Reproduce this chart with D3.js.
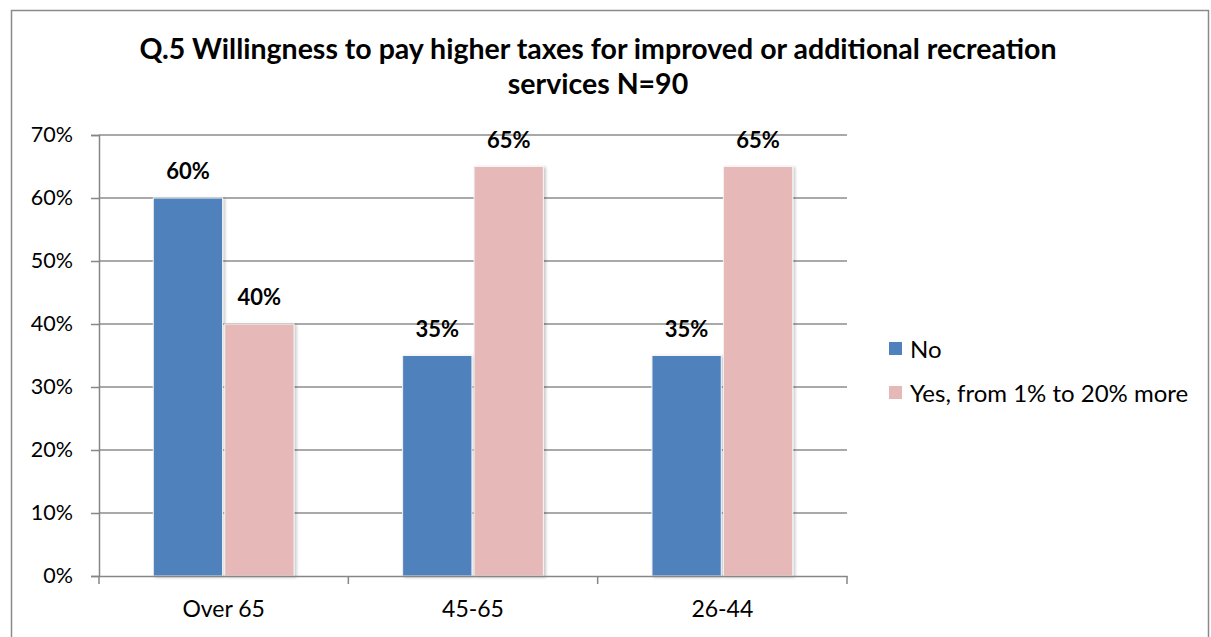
<!DOCTYPE html>
<html>
<head>
<meta charset="utf-8">
<script src="https://cdn.jsdelivr.net/npm/d3@7"></script>
<style>
  html, body { margin: 0; padding: 0; background: #fff; }
  svg { display: block; font-family: Lato, "Open Sans", "Liberation Sans", sans-serif; }
</style>
</head>
<body>
<svg id="chart" width="1211" height="637"></svg>
<script>
// Survey responses by age group
const categories = ["Over 65", "45-65", "26-44"];
const seriesNames = ["No", "Yes, from 1% to 20% more"];
const noValues = [60, 35, 35];
const yesValues = [40, 65, 65];
const yTicks = [0, 10, 20, 30, 40, 50, 60, 70];
const titleLines = ["Q.5 Willingness to pay higher taxes for improved or additional recreation", "services N=90"];
const colors = ["#4F81BD", "#E6B9B8"];

const svg = d3.select("#chart");
const defs = svg.append("defs");
const f = defs.append("filter").attr("id", "barShadow")
  .attr("x", "-10%").attr("y", "-10%").attr("width", "125%").attr("height", "120%");
f.append("feDropShadow").attr("dx", 2).attr("dy", 1).attr("stdDeviation", 1.5)
  .attr("flood-color", "#000").attr("flood-opacity", 0.22);

// outer chart frame
svg.append("rect").attr("x", 11.5).attr("y", 10.5).attr("width", 1197).attr("height", 640)
  .attr("fill", "#fff").attr("stroke", "#8a8a8a").attr("stroke-width", 1.5);

// title
svg.append("g").selectAll("text").data(titleLines).join("text")
  .attr("x", 598).attr("y", (d, i) => 59 + i * 35)
  .attr("text-anchor", "middle").attr("font-size", 28.5).attr("font-weight", 700)
  .attr("fill", "#000").text(d => d);

const plot = { left: 99, right: 847, top: 135, bottom: 576 };

const x = d3.scaleBand().domain(categories).range([plot.left, plot.right]);
const xi = d3.scaleBand().domain(seriesNames).range([0, x.bandwidth()])
  .paddingInner(0.03).paddingOuter(0.76);
const y = d3.scaleLinear().domain([0, 70]).range([plot.bottom, plot.top]);

// gridlines
svg.append("g").selectAll("line").data(yTicks.slice(1)).join("line")
  .attr("x1", plot.left).attr("x2", plot.right)
  .attr("y1", d => y(d)).attr("y2", d => y(d))
  .attr("stroke", "#8c8c8c").attr("stroke-width", 1.5);

// y axis
const yAxis = svg.append("g").attr("transform", `translate(${plot.left},0)`)
  .call(d3.axisLeft(y).tickValues(yTicks).tickFormat(d => d + "%").tickSize(8).tickPadding(18));
yAxis.select(".domain").attr("stroke", "#868686").attr("stroke-width", 1.5);
yAxis.selectAll(".tick line").attr("stroke", "#868686").attr("stroke-width", 1.5);
yAxis.selectAll(".tick text").attr("font-size", 21.5).attr("fill", "#000")
  .attr("font-family", "Lato, 'Open Sans', sans-serif");

// bars
const rows = categories.map((c, i) => ({ cat: c, vals: [noValues[i], yesValues[i]] }));
const groups = svg.append("g").selectAll("g").data(rows).join("g")
  .attr("transform", d => `translate(${x(d.cat)},0)`);
groups.selectAll("rect").data(d => d.vals.map((v, k) => ({ k, v }))).join("rect")
  .attr("x", d => xi(seriesNames[d.k]))
  .attr("y", d => y(d.v))
  .attr("width", xi.bandwidth())
  .attr("height", d => y(0) - y(d.v))
  .attr("fill", d => colors[d.k])
  .attr("stroke", "#f4f4f4").attr("stroke-width", 1)
  .attr("filter", "url(#barShadow)");
groups.selectAll("text").data(d => d.vals.map((v, k) => ({ k, v }))).join("text")
  .attr("x", d => xi(seriesNames[d.k]) + xi.bandwidth() / 2)
  .attr("y", d => y(d.v) - 19)
  .attr("text-anchor", "middle").attr("font-size", 22).attr("font-weight", 700)
  .attr("fill", "#000").text(d => d.v + "%");

// x axis
const xAxis = svg.append("g").attr("transform", `translate(0,${plot.bottom})`)
  .call(d3.axisBottom(x).tickSize(0).tickPadding(25));
xAxis.select(".domain").attr("stroke", "#868686").attr("stroke-width", 1.5);
xAxis.selectAll(".tick text").attr("font-size", 23).attr("fill", "#000")
  .attr("font-family", "Lato, 'Open Sans', sans-serif");
const xTickPos = categories.map(c => x(c)).concat([plot.right]);
xAxis.selectAll("line.cat-tick").data(xTickPos).join("line").attr("class", "cat-tick")
  .attr("x1", d => d).attr("x2", d => d).attr("y1", 0).attr("y2", 8)
  .attr("stroke", "#868686").attr("stroke-width", 1.5);

// legend
const legend = svg.append("g").attr("transform", "translate(889,349)");
const li = legend.selectAll("g").data(seriesNames).join("g")
  .attr("transform", (d, i) => `translate(0,${i * 44})`);
li.append("rect").attr("x", 0).attr("y", -7).attr("width", 13).attr("height", 13)
  .attr("fill", (d, i) => colors[i]);
li.append("text").attr("x", 21).attr("y", 9).attr("font-size", 24).attr("fill", "#000")
  .text(d => d);
</script>
</body>
</html>
